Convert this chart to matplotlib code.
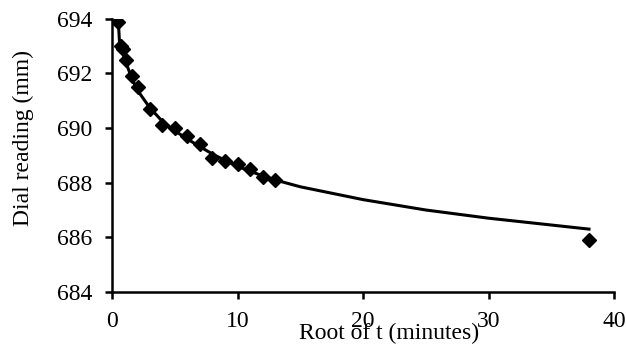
import matplotlib
matplotlib.use("Agg")
import matplotlib.pyplot as plt

# measured points: root of time vs dial reading
root_t = [0.5, 0.7, 0.85, 1.1, 1.6, 2.1, 3, 4, 5, 6, 7, 8, 9, 10, 11, 12, 13, 38]
dial = [693.9, 693.0, 692.9, 692.5, 691.9, 691.5, 690.7, 690.1, 690.0, 689.7,
        689.4, 688.9, 688.8, 688.7, 688.5, 688.2, 688.1, 685.9]

# trend line
curve_x = [0.5, 0.6, 0.85, 1.1, 1.6, 2.0, 3, 4, 5, 6, 7, 8, 9, 10, 11, 12, 13,
           15, 20, 25, 30, 35, 38]
curve_y = [693.9, 693.1, 692.8, 692.4, 691.8, 691.4, 690.75, 690.25, 689.9,
           689.6, 689.32, 689.05, 688.82, 688.6, 688.42, 688.25, 688.1,
           687.85, 687.38, 687.0, 686.7, 686.45, 686.3]

plt.rcParams['font.family'] = ['Liberation Serif', 'DejaVu Serif']

fig = plt.figure(figsize=(6.26, 3.56), dpi=100)
ax = fig.add_axes([0.179, 0.180, 0.802, 0.767])

ax.plot(curve_x, curve_y, color='black', linewidth=2.2, zorder=2)
ax.plot(root_t, dial, linestyle='none', marker='D', markersize=7,
        color='black', zorder=3)

ax.set_xlim(0, 40)
ax.set_ylim(684, 694)
ax.set_xticks([0, 10, 20, 30, 40])
ax.set_yticks([684, 686, 688, 690, 692, 694])

for s in ['top', 'right']:
    ax.spines[s].set_visible(False)
for s in ['left', 'bottom']:
    ax.spines[s].set_linewidth(1.8)
ax.tick_params(direction='out', length=5, width=1.8, labelsize=17)
ax.tick_params(axis='y', pad=9)
ax.tick_params(axis='x', pad=9)

ax.set_xlabel('Root of t (minutes)', fontsize=17)
ax.set_ylabel('Dial reading (mm)', fontsize=17)
ax.xaxis.set_label_coords(0.552, -0.115)
ax.yaxis.set_label_coords(-0.155, 0.564)

plt.savefig('out.png', dpi=100)
